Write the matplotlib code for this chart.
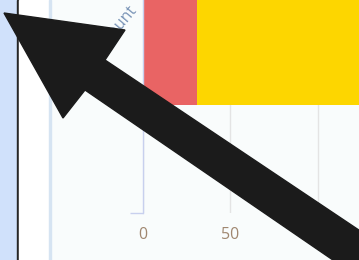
import matplotlib.pyplot as plt
from matplotlib.patches import Rectangle, Polygon
from matplotlib.transforms import ScaledTranslation

# data
categories = ['Count']
red_values = [31]
yellow_values = [100]
x_ticks = [0, 50, 100]
x_tick_labels = ['0', '50', '100']

W, H = 359, 260
fig = plt.figure(figsize=(W / 100, H / 100), dpi=100)
fig.patch.set_facecolor('#f9fcfc')


def px(x, y):
    # pixel (from top-left) -> figure fraction
    return x / W, 1 - y / H


# side panels of the screenshot
def strip(x0, x1, color):
    fig.patches.append(Rectangle((x0 / W, 0), (x1 - x0) / W, 1,
                                 transform=fig.transFigure, color=color, zorder=0))


strip(0, 17.3, '#d0e1fb')
strip(17.3, 19, '#262626')
strip(19, 49, '#ffffff')
strip(49, 50.5, '#d6e4f2')

# axes: 0 at px 143, 1.75 px per unit, bottom at px 213
x0_px, scale = 143, 1.75
xmax = 135
ylo, yhi = -0.832, 0.6
ax = fig.add_axes([x0_px / W, (H - 213) / H, xmax * scale / W, 358 / H])
ax.set_facecolor('none')

ax.barh(categories, red_values, height=0.8, color='#e96464', zorder=2)
ax.barh(categories, yellow_values, left=red_values, height=0.8, color='#fdd600', zorder=2)

ax.set_xlim(0, xmax)
ax.set_ylim(ylo, yhi)

for s in ['top', 'right', 'bottom']:
    ax.spines[s].set_visible(False)
ax.spines['left'].set_color('#c8d0ee')
ax.spines['left'].set_linewidth(1)

ax.set_xticks(x_ticks)
ax.set_xticklabels(x_tick_labels, fontsize=11.5, color='#a08770', family='Open Sans')
ax.tick_params(axis='x', length=0, pad=10)
ax.grid(axis='x', color='#e4e4e4', linewidth=1)
ax.set_axisbelow(True)

ax.set_yticks([0])
ax.set_yticklabels(categories, rotation=50, rotation_mode='anchor', ha='right', va='center',
                   fontsize=11.5, color='#7c96b8', family='Open Sans')
ax.tick_params(axis='y', length=0, pad=5)
for lab in ax.get_yticklabels():
    lab.set_transform(lab.get_transform() + ScaledTranslation(-0.025, -0.025, fig.dpi_scale_trans))
ax.set_yticks([ylo], minor=True)
ax.tick_params(axis='y', which='minor', length=9.4, color='#c8d0ee', width=1)

# big black arrow drawn over the screenshot
arrow_px = [(4, 13), (125, 30), (105, 60), (420, 271), (400, 306), (85, 90), (63, 118)]
fig.patches.append(Polygon([px(x, y) for x, y in arrow_px], closed=True,
                           transform=fig.transFigure, color='#1b1b1b', zorder=10))

fig.savefig('out.png', dpi=100, facecolor=fig.get_facecolor())
